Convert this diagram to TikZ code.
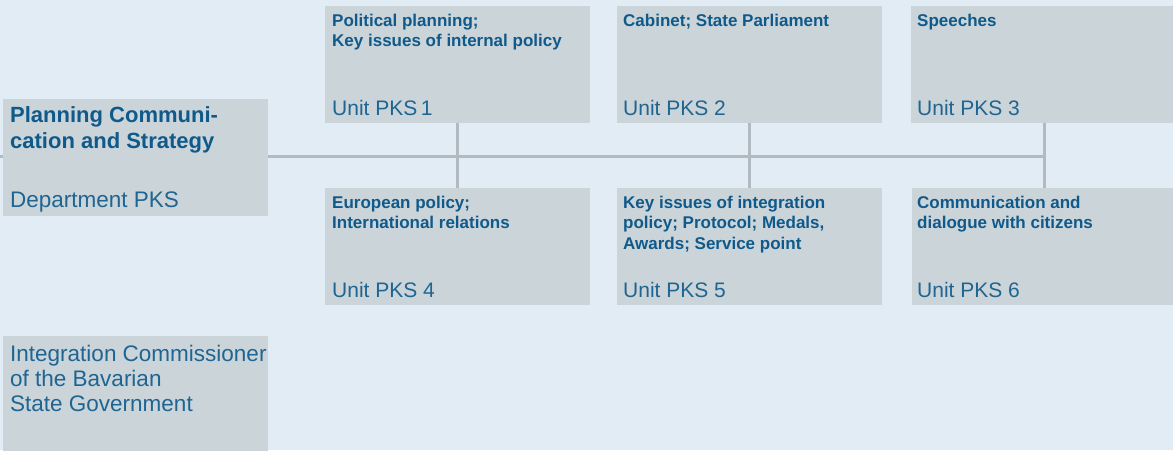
\documentclass[tikz,border=0pt]{standalone}
\usepackage{fontspec}
\setmainfont{Liberation Sans}
\definecolor{bgblue}{HTML}{E2ECF5}
\definecolor{boxgrey}{HTML}{CBD4D9}
\definecolor{linegrey}{HTML}{B0BAC0}
\definecolor{textblue}{HTML}{1E6592}
\definecolor{titleblue}{HTML}{0F5A8A}
\pgfdeclarelayer{bg}
\pgfdeclarelayer{lines}
\pgfsetlayers{bg,lines,main}
\tikzset{
  box/.style={fill=boxgrey, draw=none, anchor=north west, inner sep=0pt},
  unitbox/.style={box, minimum width=265pt, minimum height=117pt},
  conn/.style={draw=linegrey, line width=3pt},
  unittitle/.style={anchor=base west, inner sep=0pt, align=left, text=titleblue,
    font=\bfseries\fontsize{17}{20.5}\selectfont},
  unitname/.style={anchor=base west, inner sep=0pt, text=textblue,
    font=\fontsize{21}{25}\selectfont},
  depttitle/.style={anchor=base west, inner sep=0pt, align=left, text=titleblue,
    font=\bfseries\fontsize{22}{26}\selectfont},
  deptname/.style={anchor=base west, inner sep=0pt, align=left, text=textblue,
    font=\fontsize{22.5}{25}\selectfont},
}
\begin{document}
\begin{tikzpicture}[x=1pt,y=-1pt]
\begin{pgfonlayer}{bg}
\fill[bgblue] (0,0) rectangle (1173,450);
\end{pgfonlayer}
\useasboundingbox (0,0) rectangle (1173,450);

% department box
\node[box, minimum width=265pt, minimum height=117pt] (dept) at (3,99) {};
\node[depttitle] (deptt) at (10,148) {Planning Communi-\\cation and Strategy};
\node[deptname] (deptn) at (10,207) {Department PKS};

% integration commissioner
\node[box, minimum width=265pt, minimum height=120pt] (integ) at (3,336) {};
\node[deptname] (integt) at (10,411) {Integration Commissioner\\of the Bavarian\\State Government};

% top row
\node[unitbox] (u1) at (325,6) {};
\node[unitbox] (u2) at (617,6) {};
\node[unitbox, minimum width=266pt] (u3) at (911,6) {};
\node[unittitle] (u1t) at (332,46.5) {Political planning;\\Key issues of internal policy};
\node[unitname]  (u1n) at (332,115) {Unit PKS\,1};
\node[unittitle] (u2t) at (623,26) {Cabinet; State Parliament};
\node[unitname]  (u2n) at (623,115) {Unit PKS 2};
\node[unittitle] (u3t) at (917,26) {Speeches};
\node[unitname]  (u3n) at (917,115) {Unit PKS 3};

% bottom row
\node[unitbox] (u4) at (325,188) {};
\node[unitbox] (u5) at (617,188) {};
\node[unitbox, minimum width=266pt] (u6) at (912,188) {};
\node[unittitle] (u4t) at (332,228.5) {European policy;\\International relations};
\node[unitname]  (u4n) at (332,297) {Unit PKS 4};
\node[unittitle] (u5t) at (623,249) {Key issues of integration\\policy; Protocol; Medals,\\Awards; Service point};
\node[unitname]  (u5n) at (623,297) {Unit PKS 5};
\node[unittitle] (u6t) at (917,228.5) {Communication and\\dialogue with citizens};
\node[unitname]  (u6n) at (917,297) {Unit PKS 6};

% connectors
\coordinate (lstart) at (0,156);
\coordinate (lend) at (1044,156);
\begin{pgfonlayer}{lines}
\draw[conn] (lstart) -- (lend);
\draw[conn] (u1.south) -- (u4.north);
\draw[conn] (u2.south) -- (u5.north);
\draw[conn] (lend |- u3.south) -- (lend |- u6.north);
\end{pgfonlayer}
\end{tikzpicture}
\end{document}
